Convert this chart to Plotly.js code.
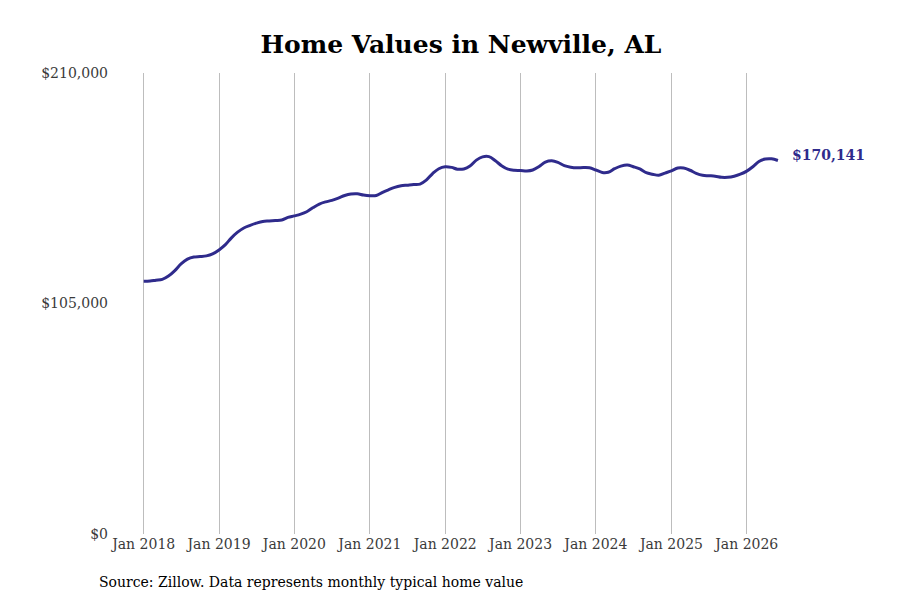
<!DOCTYPE html>
<html>
<head>
<meta charset="utf-8">
<script src="https://cdn.plot.ly/plotly-3.0.1.min.js"></script>
<style>
  body { margin: 0; background: #fff; }
  #myDiv { width: 900px; height: 600px; }
</style>
</head>
<body>
<div id="myDiv"></div>
<script>
// monthly typical home value, Jan 2018 .. Jun 2026
let startYear = 2018;
let values = [
  115100, 115200, 115600, 116000, 117500, 120000, 123000, 125200, 126200, 126400, 126700, 127600,
  129400, 131800, 134800, 137500, 139400, 140600, 141600, 142400, 142600, 142800, 143000, 144200,
  144900, 145700, 146800, 148700, 150300, 151300, 152000, 153000, 154200, 154900, 155000, 154400,
  154100, 154200, 155500, 156800, 157900, 158600, 158900, 159200, 159400, 161200, 164200, 166400,
  167300, 167000, 166200, 166300, 167600, 170300, 171800, 171900, 170000, 167800, 166200, 165700,
  165600, 165400, 165800, 167400, 169400, 170000, 169300, 167800, 167100, 166800, 166900, 166800,
  165800, 164700, 164800, 166400, 167600, 168100, 167300, 166300, 164600, 163900, 163400, 164400,
  165400, 166700, 166700, 165700, 164300, 163400, 163200, 163000, 162500, 162500, 163000, 163900,
  165300, 167400, 169700, 170800, 170900, 170141
];
let yTicks = [0, 105000, 210000];

let dates = values.map((v, i) => {
  let y = startYear + Math.floor(i / 12);
  let m = (i % 12) + 1;
  return y + '-' + String(m).padStart(2, '0') + '-01';
});

let lineColor = '#2f2b8c';
let tickColor = '#3a3a3a';

let trace1 = {
  x: dates,
  y: values,
  type: 'scatter',
  mode: 'lines',
  line: { color: lineColor, width: 3, shape: 'spline' },
  hoverinfo: 'skip'
};

let lastVal = values[values.length - 1];

let layout = {
  width: 900,
  height: 600,
  paper_bgcolor: '#fff',
  plot_bgcolor: '#fff',
  showlegend: false,
  margin: { l: 115, r: 100, t: 73, b: 66 },
  font: { family: 'DejaVu Serif, serif', size: 14, color: tickColor },
  title: {
    text: '<b>Home Values in Newville, AL</b>',
    font: { family: 'DejaVu Serif, serif', size: 25, color: '#000' },
    xref: 'paper',
    x: 0.505,
    xanchor: 'center',
    y: 0.927,
    yanchor: 'middle'
  },
  xaxis: {
    type: 'date',
    range: ['2017-08-15', '2026-09-16'],
    dtick: 'M12',
    tick0: '2018-01-01',
    tickformat: '%b %Y',
    showgrid: true,
    gridcolor: '#bdbdbd',
    gridwidth: 1,
    zeroline: false,
    showline: false,
    ticks: '',
    tickfont: { size: 14, color: tickColor }
  },
  yaxis: {
    range: [0, 210000],
    tickvals: yTicks,
    ticktext: yTicks.map(v => '$' + v.toLocaleString('en-US')),
    showgrid: false,
    zeroline: false,
    showline: false,
    ticks: '',
    ticklabelstandoff: 6,
    tickfont: { size: 14, color: tickColor }
  },
  annotations: [
    {
      x: dates[dates.length - 1],
      y: lastVal,
      xref: 'x',
      yref: 'y',
      text: '<b>$' + lastVal.toLocaleString('en-US') + '</b>',
      showarrow: false,
      xanchor: 'left',
      yanchor: 'middle',
      xshift: 12,
      yshift: 6,
      font: { family: 'DejaVu Serif, serif', size: 14, color: lineColor }
    },
    {
      xref: 'paper',
      yref: 'paper',
      x: -0.026,
      y: -0.104,
      xanchor: 'left',
      yanchor: 'middle',
      showarrow: false,
      text: 'Source: Zillow. Data represents monthly typical home value',
      font: { family: 'DejaVu Serif, serif', size: 14, color: '#000' }
    }
  ]
};

Plotly.newPlot('myDiv', [trace1], layout, { displayModeBar: false, staticPlot: true });
</script>
</body>
</html>
